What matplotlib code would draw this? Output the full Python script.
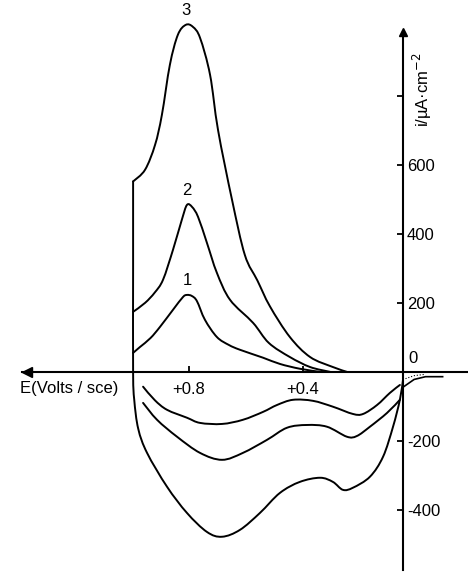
import numpy as np
import matplotlib.pyplot as plt
from matplotlib.path import Path
from matplotlib.patches import PathPatch

plt.rcParams['font.family'] = ['Liberation Sans', 'DejaVu Sans']

# potential (V vs SCE) and current density (uA/cm2) for the three sweeps
# anodic branches
e_an1 = [0.996, 0.972, 0.935, 0.902, 0.856, 0.821, 0.807, 0.790, 0.772, 0.744, 0.702, 0.660, 0.621, 0.540, 0.481, 0.411, 0.340]
i_an1 = [55, 72, 98, 130, 180, 217, 223, 220, 205, 151, 101, 78, 64, 41, 23, 9, 0]

e_an2 = [0.996, 0.954, 0.920, 0.891, 0.856, 0.825, 0.807, 0.789, 0.768, 0.737, 0.702, 0.656, 0.575, 0.520, 0.446, 0.375, 0.305]
i_an2 = [174, 200, 230, 267, 354, 441, 484, 478, 449, 374, 287, 209, 142, 84, 43, 14, 0]

e_an3 = [0.996, 0.954, 0.919, 0.895, 0.867, 0.839, 0.811, 0.786, 0.761, 0.726, 0.698, 0.649, 0.604, 0.560, 0.516, 0.446, 0.375, 0.295, 0.246]
i_an3 = [552, 586, 658, 745, 890, 977, 1006, 1000, 968, 861, 701, 499, 339, 265, 190, 101, 43, 14, 0]

# cathodic branches
e_ca1 = [0.961, 0.920, 0.877, 0.807, 0.761, 0.684, 0.611, 0.540, 0.491, 0.435, 0.365, 0.295, 0.225, 0.189, 0.140, 0.095, 0.060]
i_ca1 = [-43, -82, -110, -133, -148, -151, -139, -116, -96, -81, -84, -101, -122, -122, -96, -61, -38]

e_ca2 = [0.961, 0.912, 0.842, 0.761, 0.684, 0.611, 0.526, 0.456, 0.386, 0.316, 0.246, 0.211, 0.165, 0.105, 0.060]
i_ca2 = [-90, -139, -188, -235, -255, -235, -197, -162, -154, -159, -188, -186, -159, -119, -81]

# sweep 3 goes straight down the +1.0 V edge before turning
e_ca3 = [0.996, 0.996, 0.996, 0.992, 0.978, 0.947, 0.877, 0.807, 0.737, 0.684, 0.621, 0.551, 0.481, 0.411, 0.340, 0.295, 0.260, 0.225, 0.165, 0.119, 0.084, 0.060, 0.049]
i_ca3 = [552, 300, 0, -81, -165, -235, -333, -409, -464, -478, -458, -409, -351, -319, -307, -319, -342, -336, -304, -246, -159, -81, -23]

# short tail past the current axis
e_tail = [0.050, 0.010, -0.030, -0.090]
i_tail = [-45, -22, -14, -14]

sweep_labels = ['1', '2', '3']
y_ticks = [800, 600, 400, 200, 0, -200, -400]
y_ticklabels = ['', '600', '400', '200', '', '-200', '-400']
x_ticks = [0.8, 0.4]
x_ticklabels = ['+0.8', '+0.4']

Y_AXIS_E = 0.05


def smooth_path(x, y):
    # Catmull-Rom through the points, written as cubic Bezier segments
    p = np.column_stack([x, y]).astype(float)
    ext = np.vstack([p[0], p, p[-1]])
    verts = [p[0]]
    codes = [Path.MOVETO]
    for k in range(1, len(ext) - 2):
        p0, p1, p2, p3 = ext[k - 1], ext[k], ext[k + 1], ext[k + 2]
        verts += [p1 + (p2 - p0) / 6, p2 - (p3 - p1) / 6, p2]
        codes += [Path.CURVE4] * 3
    return Path(verts, codes)


fig = plt.figure(figsize=(4.68, 5.74), dpi=100)
ax = fig.add_axes([0, 0, 1, 1])
ax.set_xlim(1.463, -0.179)
ax.set_ylim(-586, 1078)

lw = 1.4
for e, i in [(e_an1, i_an1), (e_an2, i_an2), (e_an3, i_an3),
             (e_ca1, i_ca1), (e_ca2, i_ca2), (e_ca3, i_ca3)]:
    ax.add_patch(PathPatch(smooth_path(e, i), facecolor='none', edgecolor='k',
                           lw=lw, joinstyle='round', capstyle='round'))
ax.plot(e_tail, i_tail, color='k', lw=1.2)
ax.plot(e_tail[:3], [v * 0.5 for v in i_tail[:3]], color='k', lw=0.8, ls=':')

# sweep numbers above each anodic peak
for lab, e, i in zip(sweep_labels, [e_an1, e_an2, e_an3], [i_an1, i_an2, i_an3]):
    k = int(np.argmax(i))
    ax.annotate(lab, (e[k], i[k]), xytext=(0, 5), textcoords='offset points',
                ha='center', va='bottom', fontsize=12)

# axes drawn through the origin
for s in ['left', 'top']:
    ax.spines[s].set_visible(False)
ax.spines['bottom'].set_position(('data', 0))
ax.spines['right'].set_position(('data', Y_AXIS_E))
ax.spines['bottom'].set_bounds(-0.179, 1.386)
ax.spines['right'].set_bounds(-574, 986)
for s in ['bottom', 'right']:
    ax.spines[s].set_linewidth(1.5)

ax.yaxis.tick_right()
ax.set_yticks(y_ticks)
ax.set_yticklabels(y_ticklabels)
ax.set_xticks(x_ticks)
ax.set_xticklabels(x_ticklabels)
ax.tick_params(axis='y', direction='in', length=4, width=1.3, pad=3, labelsize=12)
ax.tick_params(axis='x', direction='in', length=4, width=1.3, pad=7, labelsize=12)

# arrow heads
ax.plot(Y_AXIS_E, 986, marker='^', color='k', markersize=6, clip_on=False)
ax.plot(1.37, 0, marker='<', color='k', markersize=7, clip_on=False)

ax.annotate('0', (Y_AXIS_E, 0), xytext=(4, 4), textcoords='offset points',
            ha='left', va='bottom', fontsize=12)
ax.text(1.221, -49, 'E(Volts / sce)', ha='center', va='center', fontsize=12)
ax.text(-0.018, 818, 'i/µA·cm$^{-2}$', rotation=90, ha='center', va='center', fontsize=12)

fig.savefig('out.png', dpi=100, facecolor='white')
